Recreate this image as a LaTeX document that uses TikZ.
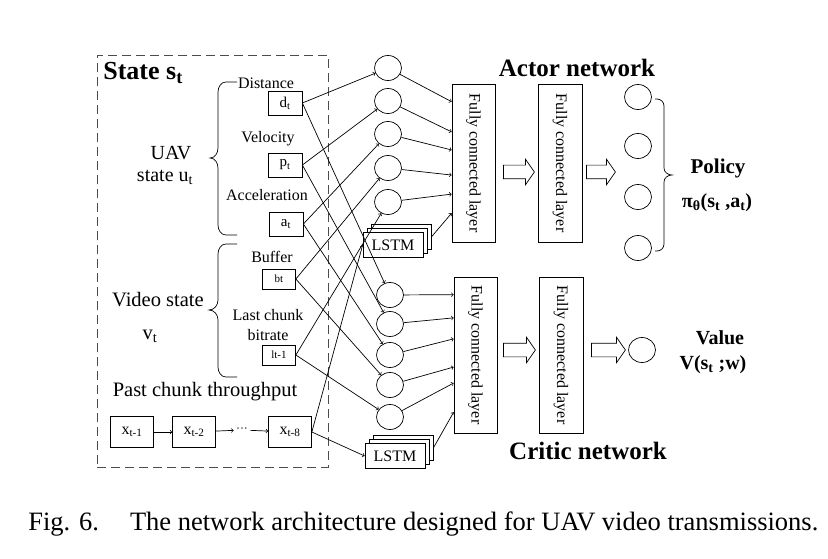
\documentclass[tikz,border=0pt]{standalone}
\usepackage{fontspec}
\setmainfont{Liberation Serif}
\usetikzlibrary{positioning, shapes, shapes.geometric, shapes.arrows, calc, arrows}
\newcommand{\fsz}[1]{\fontsize{#1}{#1}\selectfont}

\begin{document}
\begin{tikzpicture}[x=1pt, y=-1pt, line width=0.7pt,
	box/.style={draw, minimum width=34pt, minimum height=24pt, inner sep=0pt, font=\fsz{15}},
	smallbox/.style={draw, minimum width=33pt, minimum height=20pt, inner sep=0pt, font=\fsz{11}},
	xbox/.style={draw, minimum width=43pt, minimum height=31pt, inner sep=0pt, font=\fsz{16}},
	neuron/.style={draw, ellipse, minimum width=27pt, minimum height=25pt, inner sep=0pt},
	fc/.style={draw, minimum width=43pt, inner sep=0pt, font=\fsz{16}},
	lstm/.style={draw, fill=white, minimum width=60pt, minimum height=25pt, inner sep=0pt, font=\fsz{16}},
	hollow/.style={draw, single arrow, single arrow head extend=6pt, single arrow tip angle=110, inner xsep=0pt, inner ysep=6.5pt},
	lbl/.style={inner sep=0pt, align=center},
	ttl/.style={inner sep=0pt, font=\bfseries\fsz{25}}]
		\useasboundingbox (0,0) rectangle (828,559);
		
		\node[draw=black!70, dashed, dash pattern=on 9pt off 5pt, minimum width=231pt, minimum height=412pt] (state) at (212.5,261) {};
		\node[ttl, anchor=west, font=\bfseries\fsz{26}] (statelbl) at (103,73) {State s\textsubscript{t}};
		
		\node[lbl, font=\fsz{20}] (uav) at (171,153) {UAV};
		\node[lbl, font=\fsz{20}] (uavst) at (165,177) {state u\textsubscript{t}};
		\node[lbl, font=\fsz{16}] (dist) at (266,83) {Distance};
		\node[lbl, font=\fsz{16}] (velo) at (268,139) {Velocity};
		\node[lbl, font=\fsz{16}] (acc) at (267,195) {Acceleration};
		\node[lbl, font=\fsz{16}] (buf) at (272,257) {Buffer};
		\node[lbl, font=\fsz{16}] (last) at (268,315) {Last chunk};
		\node[lbl, font=\fsz{16}] (bitr) at (268,335) {bitrate};
		\node[lbl, font=\fsz{20.5}] (video) at (158,300) {Video state};
		\node[lbl, font=\fsz{20.5}] (vt) at (150,336) {v\textsubscript{t}};
		\node[lbl, font=\fsz{20.5}] (past) at (205,392) {Past chunk throughput};
		
		\draw (237,82) -- (226,82) to[out=180,in=90] (218,92) -- (218,148) to[out=-90,in=0] (210,158)
			to[out=0,in=90] (218,168) -- (218,225) to[out=-90,in=180] (226,235) -- (237,235);
		\draw (237,244) -- (226,244) to[out=180,in=90] (218,254) -- (218,300) to[out=-90,in=0] (209,310)
			to[out=0,in=90] (218,320) -- (218,367) to[out=-90,in=180] (226,377) -- (237,377);
		
		\node[box] (dt) at (285,103) {d\textsubscript{t}};
		\node[box] (pt) at (285,165) {p\textsubscript{t}};
		\node[box] (at) at (286,224) {a\textsubscript{t}};
		\node[smallbox] (bt) at (279,279) {\raisebox{-5pt}{bt}};
		\node[smallbox] (lt) at (279,355) {\raisebox{-5pt}{lt-1}};
		
		\node[xbox] (x1) at (132,432) {x\textsubscript{t-1}};
		\node[xbox] (x2) at (194,432) {x\textsubscript{t-2}};
		\node[xbox] (x8) at (290,432) {x\textsubscript{t-8}};
		\node[inner sep=2pt, font=\fsz{12}] (dots) at (242,430) {···};
		\draw[->] (x1) -- (x2);
		\draw[->] (x2) -- (dots);
		\draw[->] (dots) -- (x8);
		
		\node[neuron] (ca1) at (388,68) {};
		\node[neuron] (ca2) at (388,101) {};
		\node[neuron] (ca3) at (388,134) {};
		\node[neuron] (ca4) at (388,168) {};
		\node[neuron] (ca5) at (388,202) {};
		\node[lstm] (lstmA2) at (401,237) {};
		\node[lstm] (lstmA1) at (397,241) {};
		\node[lstm] (lstmA) at (393,245) {LSTM};
		
		\node[neuron] (cb1) at (390,295) {};
		\node[neuron] (cb2) at (390,324) {};
		\node[neuron] (cb3) at (390,355) {};
		\node[neuron] (cb4) at (390,385) {};
		\node[neuron] (cb5) at (390,417) {};
		\node[lstm] (lstmB2) at (403,448) {};
		\node[lstm] (lstmB1) at (399,452) {};
		\node[lstm] (lstmB) at (395,456) {LSTM};
		
		\draw[->] (dt.east) -- (ca1);
		\draw[->] (pt.east) -- (ca2);
		\draw[->] (at.east) -- (ca3);
		\draw[->] (bt.east) -- (ca4);
		\draw[->] (lt.east) -- (ca5);
		\draw[->] (x8.east) -- (lstmA.west);
		\draw[->] (dt.east) -- (cb1);
		\draw[->] (pt.east) -- (cb2);
		\draw[->] (at.east) -- (cb3);
		\draw[->] (bt.east) -- (cb4);
		\draw[->] (lt.east) -- (cb5);
		\draw[->] (x8.east) -- (lstmB.west);
		
		\node[fc, minimum height=158pt] (fa1) at (473.5,163) {\rotatebox{-90}{Fully connected layer}};
		\node[fc, minimum height=158pt, minimum width=44pt] (fa2) at (560,163) {\rotatebox{-90}{Fully connected layer}};
		\node[fc, minimum height=156pt] (fc1) at (475.5,355) {\rotatebox{-90}{Fully connected layer}};
		\node[fc, minimum height=156pt, minimum width=44pt] (fc2) at (561,355) {\rotatebox{-90}{Fully connected layer}};
		
		\draw[->] (ca1) -- ($(fa1.north west)!0.114!(fa1.south west)$);
		\draw[->] (ca2) -- ($(fa1.north west)!0.304!(fa1.south west)$);
		\draw[->] (ca3) -- ($(fa1.north west)!0.418!(fa1.south west)$);
		\draw[->] (ca4) -- ($(fa1.north west)!0.576!(fa1.south west)$);
		\draw[->] (ca5) -- ($(fa1.north west)!0.696!(fa1.south west)$);
		\draw[->] (lstmA2.east) -- ($(fa1.north west)!0.816!(fa1.south west)$);
		\draw[->] (cb1) -- ($(fc1.north west)!0.115!(fc1.south west)$);
		\draw[->] (cb2) -- ($(fc1.north west)!0.263!(fc1.south west)$);
		\draw[->] (cb3) -- ($(fc1.north west)!0.397!(fc1.south west)$);
		\draw[->] (cb4) -- ($(fc1.north west)!0.577!(fc1.south west)$);
		\draw[->] (cb5) -- ($(fc1.north west)!0.679!(fc1.south west)$);
		\draw[->] (lstmB2.east) -- ($(fc1.north west)!0.865!(fc1.south west)$);
		
		\node[hollow, minimum height=31pt] (ha1) at (516.5,172) {};
		\node[hollow, minimum height=29pt] (ha2) at (598.5,172) {};
		\node[hollow, minimum height=32pt] (hc1) at (517,350) {};
		\node[hollow, minimum height=34pt] (hc2) at (606,350) {};
		
		\node[neuron] (oa1) at (638,97) {};
		\node[neuron] (oa2) at (638,146) {};
		\node[neuron] (oa3) at (638,197) {};
		\node[neuron] (oa4) at (638,248) {};
		\node[neuron] (oc) at (642,350) {};
		\draw (655,99) -- (657,99) to[out=0,in=90] (664,106) -- (664,168) to[out=-90,in=180] (672,175)
			to[out=180,in=90] (664,182) -- (664,244) to[out=-90,in=0] (657,251) -- (655,251);
		
		\node[ttl] (actor) at (577,68) {Actor network};
		\node[ttl] (critic) at (588,451) {Critic network};
		\node[lbl, font=\bfseries\fsz{21}] (policy) at (718,168) {Policy};
		\node[lbl, font=\bfseries\fsz{20}] (pi) at (717,203) {π\textsubscript{θ}(s\textsubscript{t} ,a\textsubscript{t})};
		\node[lbl, font=\bfseries\fsz{20}] (value) at (720,338) {Value};
		\node[lbl, font=\bfseries\fsz{20}] (vfun) at (713,365) {V(s\textsubscript{t} ;w)};
		
		\node[lbl, anchor=west, font=\fsz{26.5}] (caption) at (28,524) {Fig. 6.\hspace{31pt}The network architecture designed for UAV video transmissions.};
\end{tikzpicture}
\end{document}
